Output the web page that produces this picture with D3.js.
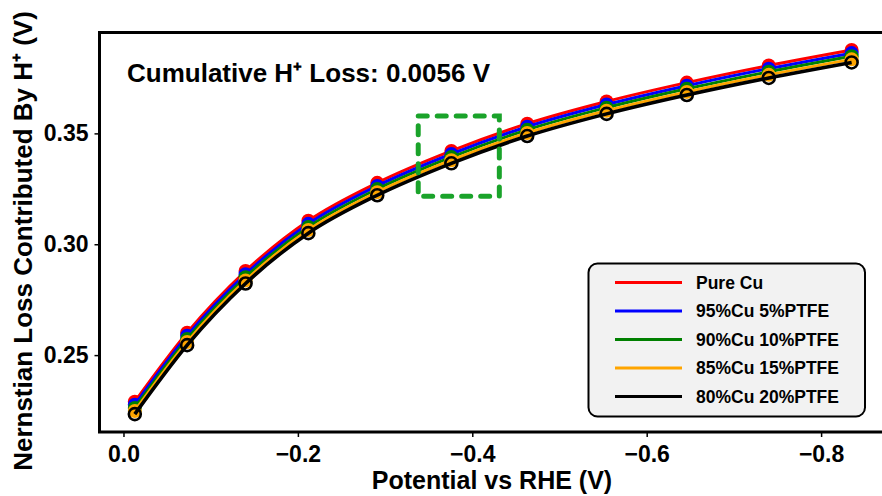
<!DOCTYPE html>
<html>
<head>
<meta charset="utf-8">
<script src="https://cdn.jsdelivr.net/npm/d3@7"></script>
<style>
  html, body { margin: 0; padding: 0; background: #fff; }
  svg { display: block; font-family: "Liberation Sans", Arial, sans-serif; }
</style>
</head>
<body>
<svg id="chart" width="882" height="496"></svg>
<script>
// Electrode potentials (V vs RHE)
const potential = [-0.013, -0.073, -0.140, -0.212, -0.291, -0.376, -0.463, -0.554, -0.646, -0.740, -0.835];

// Nernstian loss contributed by H+ (V) for each electrode composition
const pureCu   = [0.2290, 0.2601, 0.2879, 0.3106, 0.3277, 0.3421, 0.3544, 0.3644, 0.3729, 0.3806, 0.3876];
const cu95     = [0.2276, 0.2587, 0.2865, 0.3092, 0.3263, 0.3407, 0.3530, 0.3630, 0.3715, 0.3792, 0.3862];
const cu90     = [0.2262, 0.2573, 0.2851, 0.3078, 0.3249, 0.3393, 0.3516, 0.3616, 0.3701, 0.3778, 0.3848];
const cu85     = [0.2248, 0.2559, 0.2837, 0.3064, 0.3235, 0.3379, 0.3502, 0.3602, 0.3687, 0.3764, 0.3834];
const cu80     = [0.2234, 0.2545, 0.2823, 0.3050, 0.3221, 0.3365, 0.3488, 0.3588, 0.3673, 0.3750, 0.3820];

const seriesNames  = ["Pure Cu", "95%Cu 5%PTFE", "90%Cu 10%PTFE", "85%Cu 15%PTFE", "80%Cu 20%PTFE"];
const seriesValues = [pureCu, cu95, cu90, cu85, cu80];
const seriesColors = ["#ff0000", "#0000ff", "#008000", "#ffa500", "#000000"];

const xTicks = [0.0, -0.2, -0.4, -0.6, -0.8];
const yTicks = [0.25, 0.30, 0.35];

// Highlighted region (potential range, loss range)
const zoomBoxX = [-0.338, -0.431];
const zoomBoxY = [0.3216, 0.3578];

const annotation = "Cumulative H\u207A Loss: 0.0056 V";

const svg = d3.select("#chart");
const plot = { left: 99.5, top: 32.5, right: 892, bottom: 432 };

const x = d3.scaleLinear().domain([0.0275, -0.8813]).range([plot.left, plot.right]);
const y = d3.scaleLinear().domain([0.21532, 0.39550]).range([plot.bottom, plot.top]);

// Axes
const xAxis = d3.axisBottom(x).tickValues(xTicks)
  .tickFormat(d => d === 0 ? "0.0" : "\u2212" + Math.abs(d).toFixed(1))
  .tickSize(5).tickPadding(9);
const yAxis = d3.axisLeft(y).tickValues(yTicks)
  .tickFormat(d => d.toFixed(2)).tickSize(5).tickPadding(6);

const gx = svg.append("g").attr("transform", `translate(0,${plot.bottom})`).call(xAxis);
const gy = svg.append("g").attr("transform", `translate(${plot.left},0)`).call(yAxis);
[gx, gy].forEach(g => {
  g.select(".domain").remove();
  g.selectAll(".tick line").attr("stroke", "#000").attr("stroke-width", 1.5);
  g.selectAll(".tick text").attr("fill", "#000").attr("font-size", 23).attr("font-weight", "bold");
});

// Curves
svg.append("defs").append("clipPath").attr("id", "plotClip")
  .append("rect").attr("x", plot.left).attr("y", plot.top)
  .attr("width", plot.right - plot.left).attr("height", plot.bottom - plot.top);

const lineGen = d3.line().x(d => x(d[0])).y(d => y(d[1])).curve(d3.curveMonotoneX);
const curves = svg.append("g").attr("clip-path", "url(#plotClip)");

seriesValues.forEach((vals, i) => {
  const pts = potential.map((p, k) => [p, vals[k]]);
  const isLast = i === seriesValues.length - 1;
  curves.append("path").datum(pts)
    .attr("d", lineGen)
    .attr("fill", "none")
    .attr("stroke", seriesColors[i])
    .attr("stroke-width", isLast ? 3.6 : 3)
    .attr("stroke-linejoin", "round");
  curves.selectAll(null).data(pts).enter().append("circle")
    .attr("cx", d => x(d[0])).attr("cy", d => y(d[1]))
    .attr("r", isLast ? 6 : 7)
    .attr("fill", isLast ? "none" : seriesColors[i])
    .attr("stroke", seriesColors[i])
    .attr("stroke-width", isLast ? 2.6 : 0);
});

// Dashed highlight box
svg.append("rect")
  .attr("x", x(zoomBoxX[0])).attr("y", y(zoomBoxY[1]))
  .attr("width", x(zoomBoxX[1]) - x(zoomBoxX[0]))
  .attr("height", y(zoomBoxY[0]) - y(zoomBoxY[1]))
  .attr("fill", "none").attr("stroke", "#1aa32a").attr("stroke-width", 5)
  .attr("stroke-dasharray", "9 10").attr("stroke-linecap", "round");

// Frame (left, top, bottom spines)
svg.append("path")
  .attr("d", `M${plot.right},${plot.top}H${plot.left}V${plot.bottom}H${plot.right}`)
  .attr("fill", "none").attr("stroke", "#000").attr("stroke-width", 3);

// Annotation
svg.append("text").attr("x", 127).attr("y", 82)
  .attr("font-size", 26).attr("font-weight", "bold").attr("fill", "#000")
  .text(annotation);

// Axis titles
svg.append("text").attr("x", 492).attr("y", 489).attr("text-anchor", "middle")
  .attr("font-size", 25).attr("font-weight", "bold").text("Potential vs RHE (V)");
svg.append("text").attr("transform", "translate(32,241) rotate(-90)").attr("text-anchor", "middle")
  .attr("font-size", 26).attr("font-weight", "bold").text("Nernstian Loss Contributed By H\u207A (V)");

// Legend
const lg = svg.append("g");
lg.append("rect").attr("x", 588.5).attr("y", 263.5).attr("width", 276.5).attr("height", 153)
  .attr("rx", 9).attr("fill", "#f2f2f2").attr("stroke", "#000").attr("stroke-width", 2);
seriesNames.forEach((name, i) => {
  const ly = 282.5 + i * 28.5;
  lg.append("line").attr("x1", 615).attr("x2", 682).attr("y1", ly).attr("y2", ly)
    .attr("stroke", seriesColors[i]).attr("stroke-width", 3);
  lg.append("text").attr("x", 696).attr("y", ly + 6).attr("font-size", 17.5)
    .attr("font-weight", "bold").attr("fill", "#000").text(name);
});
</script>
</body>
</html>
